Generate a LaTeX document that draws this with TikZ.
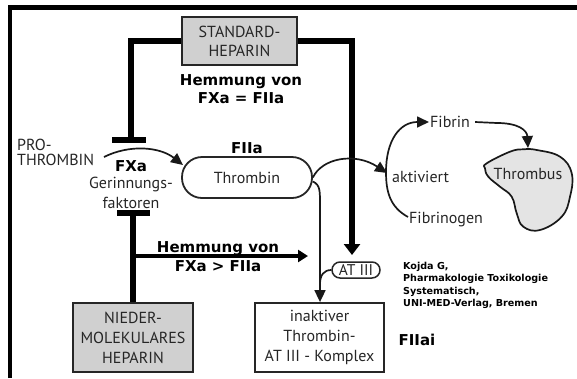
\documentclass[tikz,border=0pt]{standalone}
\usepackage{fontspec}
\setmainfont{PT Sans}
\newfontfamily\vbold{DejaVu Sans Bold}
\usetikzlibrary{arrows.meta}
\definecolor{txt}{HTML}{262626}
\definecolor{boxgray}{HTML}{D0D0D0}
\definecolor{blobgray}{HTML}{E4E4E4}
\tikzset{
 dtext/.style={font=\fontsize{16}{20}\selectfont, text=txt, align=center, inner sep=0pt},
 btext/.style={font=\vbold\fontsize{15}{18.5}\selectfont, align=center, inner sep=0pt},
 cite/.style={font=\vbold\fontsize{9.6}{12.3}\selectfont, align=left, inner sep=0pt},
 graybox/.style={dtext, draw=black!85, line width=1.8pt, fill=boxgray},
 whitebox/.style={dtext, draw=black!85, line width=1.8pt, fill=white},
 thk/.style={line width=6.5pt},
 thn/.style={line width=1.7pt, draw=black!90},
 tip/.style={-{Triangle[length=12pt,width=11pt]}},
 bigtip/.style={-{Triangle[length=11pt,width=16pt]}},
}
\begin{document}
\begin{tikzpicture}[x=1pt,y=-1pt]
\useasboundingbox (0,0) rectangle (577,378);
% frame
\draw[line width=4.5pt] (10,378) -- (10,7.5) -- (577,7.5);

% boxes
\node[graybox, minimum width=115pt, minimum height=48pt, font=\fontsize{16}{19}\selectfont] (std) at (239.5,41) {STANDARD-\\HEPARIN};
\node[graybox, minimum width=120pt, minimum height=69pt] (nmh) at (133,337.5) {NIEDER-\\MOLEKULARES\\HEPARIN};
\node[whitebox, minimum width=129pt, minimum height=69pt] (inak) at (319.5,337.5) {inaktiver\\Thrombin-\\AT III - Komplex};
\node[whitebox, rounded corners=20pt, minimum width=130pt, minimum height=41pt] (thr) at (247,177.5) {Thrombin};
\node[whitebox, rounded corners=8pt, minimum width=48pt, minimum height=16pt, line width=1.5pt, font=\fontsize{15.5}{18}\selectfont] (at3) at (356,270) {AT III};

% thrombus blob
\draw[thn, fill=blobgray] plot[smooth cycle, tension=0.7] coordinates {(486.7,163.3) (510,151.7) (523.3,149.3) (536.7,150) (560,156.7) (571.7,173.3) (570,196.7) (561.7,216.7) (540,230) (523.3,226.7) (516.7,213.3) (511.7,196.7) (500,186.7) (488.3,176.7) (485,168.3)};
\node[dtext] (thb) at (528,174) {Thrombus};

% texts
\node[dtext, anchor=west] (fib) at (430,122) {Fibrin};
\node[dtext, anchor=west] (fibg) at (409,220) {Fibrinogen};
\node[dtext, anchor=west] (akt) at (392,177) {aktiviert};
\node[btext] (h1) at (241,89) {Hemmung von\\FXa = FIIa};
\node[btext] (fiia) at (247,148) {FIIa};
\node[btext] (fxa) at (131,166) {FXa};
\node[dtext] (gf) at (131,193) {Gerinnungs-\\faktoren};
\node[btext] (h2) at (218,256.5) {Hemmung von\\FXa > FIIa};
\node[dtext, anchor=west, align=left, font=\fontsize{16}{15}\selectfont] (pro) at (17,152.5) {PRO-\\THROMBIN};
\node[cite, anchor=north west] (cit) at (403,262) {Kojda G,\\Pharmakologie Toxikologie\\Systematisch,\\UNI-MED-Verlag, Bremen};
\node[btext] (fiiai) at (417,340) {FIIai};

% coordinates
\coordinate (t1) at (131,140);
\coordinate (a3in) at (352,255);
\coordinate (t2) at (133,213);
\coordinate (br) at (133,256);
\coordinate (hend) at (308,256);
\coordinate (pstart) at (104,157);
\coordinate (pend) at (183,165);
\coordinate (aktin) at (387,173);
\coordinate (dn) at (320,205);
\coordinate (jn) at (320,284);
\coordinate (fbg) at (408,217);

% standard heparin
\draw[thk] (std.west) -| (t1);
\draw[thk] ([xshift=-19pt]t1) -- ([xshift=15pt]t1);
\draw[thk, bigtip] (std.east) -| (a3in);

% NMH
\draw[thk] (nmh.north) -- (t2);
\draw[thk] ([xshift=-16pt]t2) -- ([xshift=17pt]t2);
\draw[line width=4.5pt, -{Triangle[length=10pt,width=12pt]}] (br) -- (hend);

% thin arrows
\draw[thn, tip] (pstart) .. controls (130,144) and (160,147) .. (pend);
\draw[thn, tip] (thr.east) .. controls (322,158) and (355,152) .. (aktin);
\draw[thn, tip] ([yshift=-4pt]thr.east) .. controls (320,185) and (320,190) .. (dn) -- (dn |- inak.north);
\draw[thn] (at3.west) .. controls (324,270) and (320,275) .. (jn);
\draw[thn, tip] (fbg) .. controls (390,207) and (386,192) .. (386,172) .. controls (386,140) and (400,122) .. ([xshift=-1pt]fib.west);
\draw[thn, tip] ([xshift=5pt]fib.east) -- (497,123) .. controls (518,123) and (527,130) .. (528,148);
\end{tikzpicture}
\end{document}
